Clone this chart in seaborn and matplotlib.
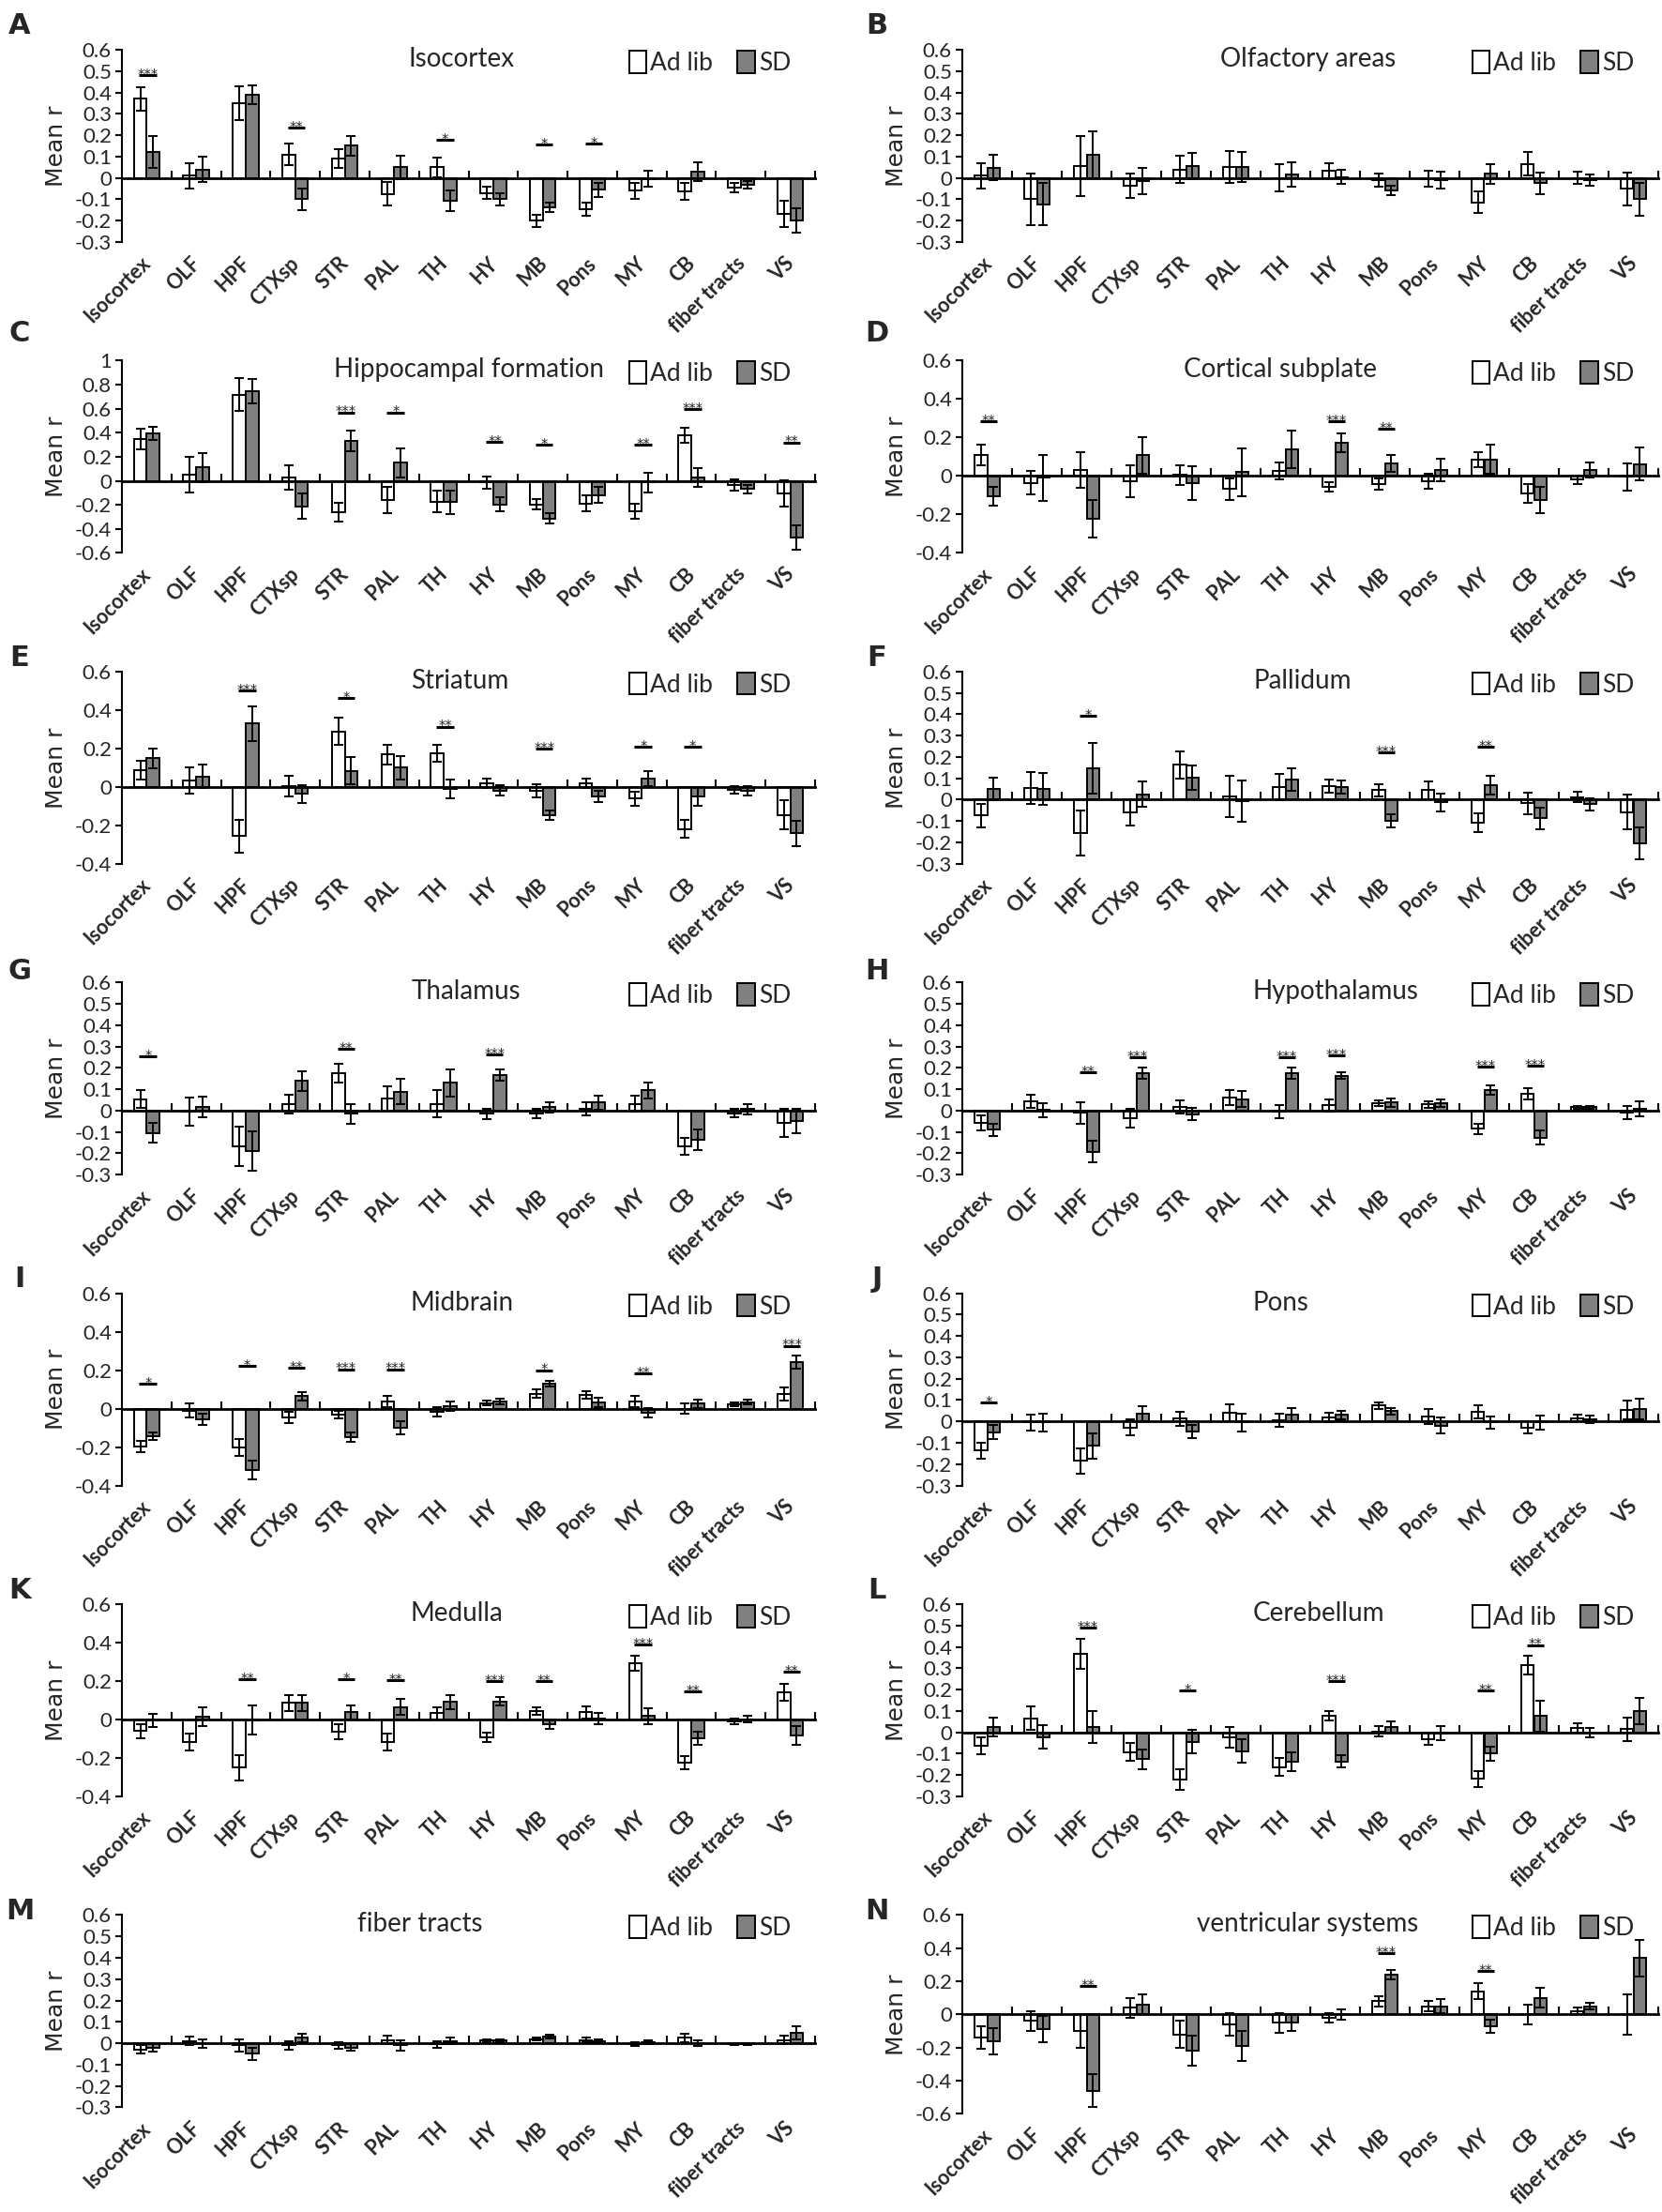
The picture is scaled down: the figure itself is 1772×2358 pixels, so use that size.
import numpy as np
import pandas as pd
import matplotlib
matplotlib.use('Agg')
import matplotlib.pyplot as plt
import matplotlib.transforms as mtransforms
from matplotlib.patches import Patch
import seaborn as sns

regions = ['Isocortex', 'OLF', 'HPF', 'CTXsp', 'STR', 'PAL', 'TH', 'HY', 'MB',
           'Pons', 'MY', 'CB', 'fiber tracts', 'VS']
groups = ['Ad lib', 'SD']

# A - Isocortex
iso_al = [0.37, 0.01, 0.35, 0.11, 0.09, -0.075, 0.05, -0.07, -0.20, -0.145, -0.06, -0.063, -0.044, -0.168]
iso_al_err = [0.055, 0.06, 0.08, 0.05, 0.045, 0.055, 0.045, 0.028, 0.028, 0.03, 0.038, 0.038, 0.022, 0.06]
iso_sd = [0.12, 0.04, 0.39, -0.10, 0.15, 0.05, -0.105, -0.10, -0.136, -0.056, -0.005, 0.03, -0.032, -0.20]
iso_sd_err = [0.075, 0.06, 0.045, 0.05, 0.048, 0.055, 0.048, 0.027, 0.022, 0.032, 0.038, 0.043, 0.016, 0.056]
iso_sig = [(0, '***', 0.48), (3, '**', 0.237), (6, '*', 0.18), (8, '*', 0.158), (9, '*', 0.16)]

# B - Olfactory areas
olf_al = [0.01, -0.10, 0.056, -0.037, 0.04, 0.05, 0.0, 0.034, -0.01, -0.005, -0.115, 0.066, 0.0, -0.05]
olf_al_err = [0.06, 0.12, 0.14, 0.058, 0.065, 0.075, 0.065, 0.035, 0.03, 0.038, 0.05, 0.055, 0.028, 0.077]
olf_sd = [0.048, -0.123, 0.107, -0.014, 0.056, 0.05, 0.016, 0.005, -0.058, -0.01, 0.02, -0.025, -0.01, -0.10]
olf_sd_err = [0.06, 0.10, 0.11, 0.062, 0.06, 0.07, 0.055, 0.035, 0.022, 0.038, 0.046, 0.05, 0.028, 0.076]
olf_sig = []

# C - Hippocampal formation
hpf_al = [0.345, 0.05, 0.718, 0.026, -0.26, -0.162, -0.172, -0.015, -0.196, -0.188, -0.253, 0.379, -0.034, -0.104]
hpf_al_err = [0.085, 0.15, 0.14, 0.1, 0.08, 0.11, 0.09, 0.05, 0.045, 0.065, 0.06, 0.06, 0.045, 0.11]
hpf_sd = [0.397, 0.11, 0.744, -0.214, 0.334, 0.149, -0.178, -0.196, -0.313, -0.117, -0.015, 0.026, -0.07, -0.47]
hpf_sd_err = [0.055, 0.12, 0.1, 0.105, 0.085, 0.12, 0.095, 0.057, 0.045, 0.065, 0.08, 0.078, 0.035, 0.10]
hpf_sig = [(4, '***', 0.569), (5, '*', 0.569), (7, '**', 0.326), (8, '*', 0.30),
           (10, '**', 0.30), (11, '***', 0.595), (13, '**', 0.32)]

# D - Cortical subplate
ctx_al = [0.11, -0.036, 0.03, -0.028, 0.005, -0.068, 0.026, -0.057, -0.044, -0.028, 0.086, -0.089, -0.02, -0.005]
ctx_al_err = [0.052, 0.06, 0.093, 0.082, 0.05, 0.057, 0.044, 0.024, 0.029, 0.04, 0.04, 0.049, 0.02, 0.07]
ctx_sd = [-0.104, -0.01, -0.222, 0.107, -0.036, 0.02, 0.138, 0.172, 0.065, 0.032, 0.086, -0.125, 0.032, 0.062]
ctx_sd_err = [0.048, 0.12, 0.098, 0.097, 0.089, 0.123, 0.099, 0.048, 0.045, 0.058, 0.076, 0.069, 0.038, 0.084]
ctx_sig = [(0, '**', 0.285), (7, '***', 0.285), (8, '**', 0.245)]

# E - Striatum
str_al = [0.087, 0.035, -0.255, 0.005, 0.289, 0.168, 0.176, 0.019, -0.02, 0.019, -0.061, -0.219, -0.016, -0.145]
str_al_err = [0.05, 0.068, 0.085, 0.055, 0.069, 0.052, 0.044, 0.026, 0.033, 0.026, 0.036, 0.046, 0.018, 0.074]
str_sd = [0.148, 0.055, 0.33, -0.037, 0.084, 0.10, -0.01, -0.02, -0.147, -0.05, 0.044, -0.05, -0.02, -0.242]
str_sd_err = [0.052, 0.061, 0.09, 0.048, 0.072, 0.061, 0.048, 0.027, 0.023, 0.03, 0.04, 0.047, 0.025, 0.064]
str_sig = [(2, '***', 0.503), (4, '*', 0.463), (6, '**', 0.313), (8, '***', 0.197),
           (10, '*', 0.208), (11, '*', 0.208)]

# F - Pallidum
pal_al = [-0.073, 0.055, -0.157, -0.058, 0.163, 0.017, 0.058, 0.063, 0.044, 0.044, -0.109, -0.017, 0.012, -0.058]
pal_al_err = [0.055, 0.075, 0.105, 0.062, 0.063, 0.097, 0.062, 0.032, 0.029, 0.041, 0.044, 0.049, 0.024, 0.08]
pal_sd = [0.051, 0.051, 0.146, 0.025, 0.102, -0.005, 0.095, 0.061, -0.099, -0.012, 0.069, -0.087, -0.022, -0.204]
pal_sd_err = [0.054, 0.076, 0.119, 0.06, 0.058, 0.097, 0.054, 0.031, 0.029, 0.042, 0.045, 0.051, 0.029, 0.073]
pal_sig = [(2, '*', 0.394), (8, '***', 0.222), (10, '**', 0.248)]

# G - Thalamus
th_al = [0.054, -0.005, -0.169, 0.029, 0.174, 0.057, 0.032, -0.015, -0.012, 0.007, 0.032, -0.166, -0.012, -0.056]
th_al_err = [0.04, 0.065, 0.092, 0.043, 0.044, 0.056, 0.062, 0.023, 0.022, 0.03, 0.037, 0.039, 0.018, 0.066]
th_sd = [-0.104, 0.018, -0.188, 0.138, -0.015, 0.088, 0.13, 0.167, 0.015, 0.037, 0.094, -0.136, 0.006, -0.048]
th_sd_err = [0.047, 0.048, 0.092, 0.045, 0.045, 0.059, 0.064, 0.027, 0.025, 0.032, 0.036, 0.049, 0.022, 0.056]
th_sig = [(0, '*', 0.255), (4, '**', 0.289), (7, '***', 0.262)]

# H - Hypothalamus
hy_al = [-0.057, 0.043, -0.01, -0.035, 0.016, 0.062, -0.005, 0.025, 0.035, 0.028, -0.085, 0.079, 0.016, -0.01]
hy_al_err = [0.036, 0.029, 0.05, 0.045, 0.031, 0.035, 0.03, 0.028, 0.012, 0.015, 0.024, 0.025, 0.007, 0.03]
hy_sd = [-0.09, 0.003, -0.192, 0.175, -0.016, 0.053, 0.175, 0.163, 0.038, 0.035, 0.097, -0.126, 0.016, 0.008]
hy_sd_err = [0.03, 0.033, 0.052, 0.025, 0.03, 0.038, 0.025, 0.016, 0.019, 0.018, 0.022, 0.033, 0.007, 0.035]
hy_sig = [(2, '**', 0.179), (3, '***', 0.251), (6, '***', 0.251), (7, '***', 0.26),
          (10, '***', 0.204), (11, '***', 0.211)]

# I - Midbrain
mb_al = [-0.197, -0.01, -0.202, -0.047, -0.031, 0.037, -0.015, 0.029, 0.078, 0.072, 0.037, 0.0, 0.021, 0.078]
mb_al_err = [0.029, 0.035, 0.046, 0.03, 0.021, 0.03, 0.024, 0.013, 0.021, 0.019, 0.027, 0.025, 0.009, 0.034]
mb_sd = [-0.142, -0.055, -0.32, 0.064, -0.148, -0.099, 0.013, 0.037, 0.129, 0.034, -0.023, 0.026, 0.034, 0.241]
mb_sd_err = [0.019, 0.03, 0.048, 0.024, 0.025, 0.035, 0.023, 0.013, 0.016, 0.025, 0.024, 0.021, 0.012, 0.033]
mb_sig = [(0, '*', 0.129), (2, '*', 0.221), (3, '**', 0.213), (4, '***', 0.205),
          (5, '***', 0.205), (8, '*', 0.20), (10, '**', 0.184), (13, '***', 0.327)]

# J - Pons
pons_al = [-0.137, -0.005, -0.185, -0.028, 0.013, 0.041, 0.005, 0.019, 0.074, 0.023, 0.045, -0.028, 0.016, 0.052]
pons_al_err = [0.039, 0.036, 0.058, 0.036, 0.032, 0.041, 0.03, 0.022, 0.015, 0.037, 0.029, 0.029, 0.015, 0.044]
pons_sd = [-0.05, -0.005, -0.115, 0.035, -0.047, -0.005, 0.031, 0.031, 0.048, -0.02, -0.005, -0.005, 0.009, 0.06]
pons_sd_err = [0.033, 0.04, 0.061, 0.035, 0.029, 0.04, 0.033, 0.019, 0.016, 0.037, 0.028, 0.033, 0.017, 0.048]
pons_sig = [(0, '*', 0.089)]

# K - Medulla
my_al = [-0.06, -0.117, -0.25, 0.086, -0.063, -0.117, 0.032, -0.092, 0.042, 0.037, 0.292, -0.225, -0.008, 0.143]
my_al_err = [0.037, 0.043, 0.066, 0.04, 0.041, 0.043, 0.033, 0.025, 0.02, 0.033, 0.04, 0.033, 0.014, 0.043]
my_sd = [-0.005, 0.016, -0.003, 0.086, 0.037, 0.065, 0.091, 0.094, -0.023, 0.005, 0.018, -0.097, 0.002, -0.084]
my_sd_err = [0.036, 0.049, 0.076, 0.04, 0.038, 0.042, 0.035, 0.021, 0.024, 0.029, 0.04, 0.036, 0.016, 0.049]
my_sig = [(2, '**', 0.211), (4, '*', 0.211), (5, '**', 0.204), (7, '***', 0.20),
          (8, '**', 0.20), (10, '***', 0.389), (11, '**', 0.146), (13, '**', 0.248)]

# L - Cerebellum
cb_al = [-0.063, 0.066, 0.367, -0.092, -0.221, -0.022, -0.163, 0.076, 0.005, -0.031, -0.217, 0.315, 0.022, 0.015]
cb_al_err = [0.041, 0.054, 0.071, 0.041, 0.047, 0.048, 0.042, 0.022, 0.025, 0.028, 0.037, 0.044, 0.022, 0.054]
cb_sd = [0.025, -0.022, 0.025, -0.126, -0.045, -0.089, -0.136, -0.136, 0.025, -0.005, -0.10, 0.076, -0.002, 0.10]
cb_sd_err = [0.044, 0.056, 0.075, 0.047, 0.055, 0.055, 0.044, 0.03, 0.025, 0.033, 0.033, 0.074, 0.023, 0.06]
cb_sig = [(2, '***', 0.491), (4, '*', 0.196), (7, '***', 0.24), (10, '**', 0.196), (11, '**', 0.409)]

# M - fiber tracts
fib_al = [-0.03, 0.01, -0.01, -0.01, -0.01, 0.015, -0.005, 0.015, 0.02, 0.015, -0.005, 0.025, -0.005, 0.015]
fib_al_err = [0.02, 0.02, 0.03, 0.02, 0.015, 0.02, 0.015, 0.005, 0.006, 0.01, 0.01, 0.02, 0.005, 0.02]
fib_sd = [-0.02, 0.0, -0.05, 0.025, -0.02, -0.01, 0.01, 0.015, 0.03, 0.01, 0.005, 0.0, -0.005, 0.05]
fib_sd_err = [0.02, 0.02, 0.03, 0.02, 0.015, 0.025, 0.015, 0.005, 0.008, 0.01, 0.01, 0.015, 0.005, 0.03]
fib_sig = []

# N - ventricular systems
vs_al = [-0.14, -0.04, -0.10, 0.04, -0.12, -0.06, -0.05, -0.02, 0.08, 0.05, 0.14, 0.0, 0.02, 0.0]
vs_al_err = [0.07, 0.06, 0.10, 0.06, 0.08, 0.07, 0.06, 0.03, 0.03, 0.03, 0.05, 0.06, 0.02, 0.12]
vs_sd = [-0.16, -0.09, -0.46, 0.06, -0.22, -0.19, -0.05, 0.0, 0.24, 0.05, -0.07, 0.10, 0.05, 0.34]
vs_sd_err = [0.08, 0.08, 0.10, 0.06, 0.09, 0.09, 0.05, 0.03, 0.03, 0.04, 0.04, 0.06, 0.02, 0.11]
vs_sig = [(2, '**', 0.17), (8, '***', 0.37), (10, '**', 0.26)]

panels = [
    ('A', 'Isocortex', iso_al, iso_al_err, iso_sd, iso_sd_err, iso_sig, (-0.3, 0.6), 0.1, 0.49),
    ('B', 'Olfactory areas', olf_al, olf_al_err, olf_sd, olf_sd_err, olf_sig, (-0.3, 0.6), 0.1, 0.497),
    ('C', 'Hippocampal formation', hpf_al, hpf_al_err, hpf_sd, hpf_sd_err, hpf_sig, (-0.6, 1.0), 0.2, 0.50),
    ('D', 'Cortical subplate', ctx_al, ctx_al_err, ctx_sd, ctx_sd_err, ctx_sig, (-0.4, 0.6), 0.2, 0.457),
    ('E', 'Striatum', str_al, str_al_err, str_sd, str_sd_err, str_sig, (-0.4, 0.6), 0.2, 0.487),
    ('F', 'Pallidum', pal_al, pal_al_err, pal_sd, pal_sd_err, pal_sig, (-0.3, 0.6), 0.1, 0.489),
    ('G', 'Thalamus', th_al, th_al_err, th_sd, th_sd_err, th_sig, (-0.3, 0.6), 0.1, 0.497),
    ('H', 'Hypothalamus', hy_al, hy_al_err, hy_sd, hy_sd_err, hy_sig, (-0.3, 0.6), 0.1, 0.536),
    ('I', 'Midbrain', mb_al, mb_al_err, mb_sd, mb_sd_err, mb_sig, (-0.4, 0.6), 0.2, 0.49),
    ('J', 'Pons', pons_al, pons_al_err, pons_sd, pons_sd_err, pons_sig, (-0.3, 0.6), 0.1, 0.458),
    ('K', 'Medulla', my_al, my_al_err, my_sd, my_sd_err, my_sig, (-0.4, 0.6), 0.2, 0.483),
    ('L', 'Cerebellum', cb_al, cb_al_err, cb_sd, cb_sd_err, cb_sig, (-0.3, 0.6), 0.1, 0.512),
    ('M', 'fiber tracts', fib_al, fib_al_err, fib_sd, fib_sd_err, fib_sig, (-0.3, 0.6), 0.1, 0.43),
    ('N', 'ventricular systems', vs_al, vs_al_err, vs_sd, vs_sd_err, vs_sig, (-0.6, 0.6), 0.2, 0.496),
]

sns.set_theme(style='white')
plt.rcParams['font.family'] = ['Lato', 'DejaVu Sans']

W, H = 1772, 2358
fig = plt.figure(figsize=(W / 100, H / 100), dpi=100)
fig.patch.set_facecolor('white')

GRAY = '#808080'
letter_y = [27, 356, 701, 1035, 1363, 1695, 2038]


def draw_panel(ax, title, al, al_err, sd, sd_err, sig, ylim, step, tx):
    df = pd.DataFrame({'region': regions * 2,
                       'group': ['Ad lib'] * len(regions) + ['SD'] * len(regions),
                       'r': list(al) + list(sd)})
    sns.barplot(data=df, x='region', y='r', hue='group', order=regions, hue_order=groups,
                palette={'Ad lib': 'white', 'SD': GRAY}, saturation=1,
                edgecolor='black', linewidth=1.4, width=0.52, gap=0,
                errorbar=None, legend=False, ax=ax)
    for cont, vals, errs in zip(ax.containers, [al, sd], [al_err, sd_err]):
        xs = [p.get_x() + p.get_width() / 2 for p in cont]
        ax.errorbar(xs, vals, yerr=errs, fmt='none', ecolor='black', elinewidth=1.4,
                    capsize=3.8, capthick=1.4, zorder=3)

    for idx, stars, y in sig:
        ax.plot([idx - 0.15, idx + 0.2], [y, y], color='black', lw=2.2,
                solid_capstyle='butt', zorder=4)
        ax.annotate(stars, (idx + 0.03, y), xytext=(0, -3.5), textcoords='offset points',
                    ha='center', va='baseline', fontsize=10.5, family='DejaVu Sans')

    ticks = np.round(np.arange(ylim[0], ylim[1] + step / 2, step), 2)
    ax.set_xlim(-0.5, 13.5)
    ax.set_ylim(*ylim)
    ax.set_yticks(ticks)
    ax.set_yticklabels([f'{t + 0.0:g}' for t in ticks])
    ax.spines[['top', 'right']].set_visible(False)
    ax.spines['bottom'].set_position(('data', 0))
    ax.spines['bottom'].set_linewidth(2)
    ax.spines['left'].set_linewidth(1.5)
    ax.spines['bottom'].set_color('black')
    ax.spines['left'].set_color('black')
    ax.set_xticks(np.arange(0.5, 14, 1))
    ax.tick_params(axis='x', direction='in', length=6, width=1.5, color='black',
                   labelbottom=False, bottom=True)
    ax.tick_params(axis='y', direction='out', length=5, width=1.5, color='black',
                   labelsize=16, left=True, pad=3)
    ax.set_xlabel('')
    ax.set_ylabel('Mean r', fontsize=18, family='DejaVu Sans')
    ax.yaxis.set_label_coords(-0.078, 0.5)

    trans = mtransforms.blended_transform_factory(ax.transData, ax.transAxes)
    lab_y = -12 / ax.get_position().height / H
    for i, name in enumerate(regions):
        ax.text(i - 0.12, lab_y, name, transform=trans, rotation=45, ha='right', va='top',
                rotation_mode='anchor', fontsize=15.5, fontweight='bold')

    ax.text(tx, 1 - 10 / (ax.get_position().height * H), title, transform=ax.transAxes,
            ha='center', va='center', fontsize=20)
    handles = [Patch(facecolor='white', edgecolor='black', linewidth=1.4, label='Ad lib'),
               Patch(facecolor=GRAY, edgecolor='black', linewidth=1.4, label='SD')]
    ax.legend(handles=handles, loc='center right',
              bbox_to_anchor=(0.965, 1 - 14 / (ax.get_position().height * H)), ncol=2,
              frameon=False, fontsize=19, handlelength=0.7, handleheight=1.0,
              handletextpad=0.15, columnspacing=1.0, borderaxespad=0, borderpad=0)


for k, (letter, title, al, al_err, sd, sd_err, sig, ylim, step, tx) in enumerate(panels):
    row, col = divmod(k, 2)
    top = 53 + 331.4 * row
    ax_h = 212 if letter == 'N' else 205
    left = 130 if col == 0 else 1026
    width = 739 if col == 0 else 742
    ax = fig.add_axes([left / W, 1 - (top + ax_h) / H, width / W, ax_h / H])
    ax.set_facecolor('white')
    draw_panel(ax, title, al, al_err, sd, sd_err, sig, ylim, step, tx)
    lx = 21 if col == 0 else 935
    fig.text(lx / W, 1 - letter_y[row] / H, letter, fontsize=22, fontweight='bold',
             ha='center', va='center', family='DejaVu Sans')

fig.savefig('out.png', dpi=100, facecolor='white')
